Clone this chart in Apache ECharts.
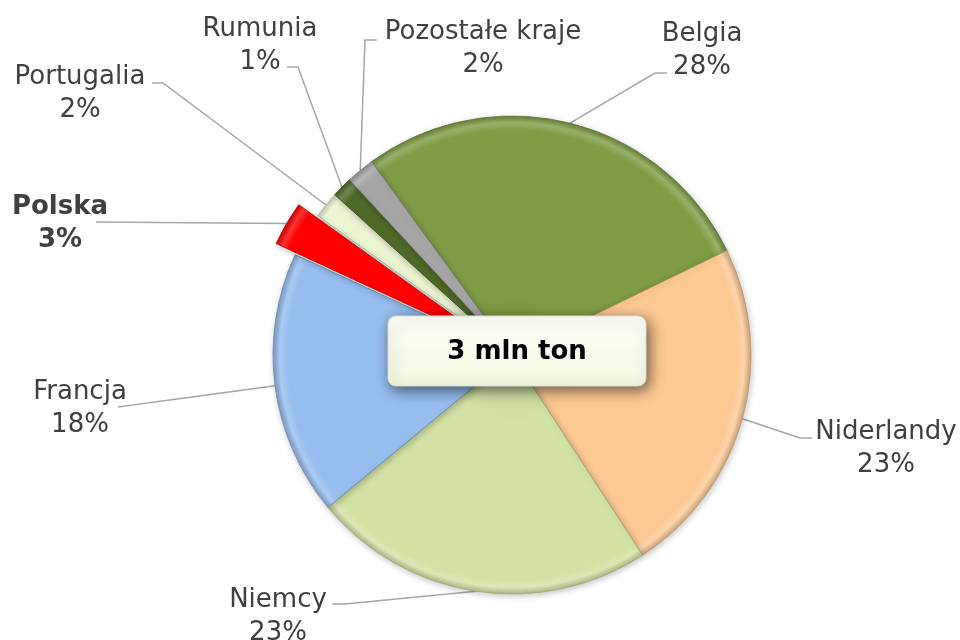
<!DOCTYPE html>
<html>
<head>
<meta charset="utf-8">
<title>Eksport</title>
<script src="https://cdn.jsdelivr.net/npm/echarts@6/dist/echarts.min.js"></script>
<style>
  html, body { margin: 0; padding: 0; background: #fff; }
  #main { width: 960px; height: 640px; }
</style>
</head>
<body>
<div id="main"></div>
<script>
// kraje i udzialy (%)
const countries = ['Belgia', 'Niderlandy', 'Niemcy', 'Francja', 'Polska', 'Portugalia', 'Rumunia', 'Pozostałe kraje'];
const shares = [27.8, 23.0, 23.2, 17.9, 3.0, 1.8, 1.4, 1.9];
const colors = ['#7f9c45', '#fcc893', '#d2e2a4', '#95bdee', '#ff0000', '#ecf5d2', '#4f6a28', '#a6a6a6'];
const highlighted = 'Polska';
const totalText = '3 mln ton';

// gdzie stoja etykiety (srodek tekstu) i koniec linii
const labelPos = [[702, 51], [886, 449], [278, 617], [80, 409], [60, 224], [80, 94], [260, 46], [483, 49]];
const lineEnds = [[667, 73, -12], [812, 438, -12], [332, 604, 13], [118, 407, 0], [96, 222, 0], [152, 83, 11], [287, 67, 11], [377, 40, -12]];

const cx = 512, cy = 355, R = 239;
const startAngle = 126;
const explode = 22;

function shade(hex, k) {
    let n = parseInt(hex.slice(1), 16);
    let r = (n >> 16) & 255, g = (n >> 8) & 255, b = n & 255;
    if (k < 0) { r *= 1 + k; g *= 1 + k; b *= 1 + k; }
    else { r += (255 - r) * k; g += (255 - g) * k; b += (255 - b) * k; }
    return 'rgb(' + Math.round(r) + ',' + Math.round(g) + ',' + Math.round(b) + ')';
}

function fillFor(c, x, y) {
    return {
        type: 'radial', x: x, y: y, r: R, global: true,
        colorStops: [
            {offset: 0, color: shade(c, -0.06)},
            {offset: 0.3, color: c},
            {offset: 0.94, color: c},
            {offset: 0.972, color: shade(c, 0.2)},
            {offset: 1, color: shade(c, -0.18)}
        ]
    };
}

// przesuniecie wysunietego wycinka liczone z danych
let total = shares.reduce((s, v) => s + v, 0);
let hi = countries.indexOf(highlighted);
let before = shares.slice(0, hi).reduce((s, v) => s + v, 0);
let mid = (startAngle - 360 * (before + shares[hi] / 2) / total) * Math.PI / 180;
let ox = cx + explode * Math.cos(mid);
let oy = cy - explode * Math.sin(mid);

const labelCommon = {
    show: true,
    formatter: '{b}\n{d}%',
    fontFamily: 'DejaVu Sans',
    fontSize: 26,
    lineHeight: 33,
    color: '#404040'
};
const lineCommon = {
    show: true,
    length: 10,
    length2: 10,
    lineStyle: {color: '#a6a6a6', width: 1.5}
};

function placeLabel(params) {
    let i = params.dataIndex;
    let p = labelPos[i], e = lineEnds[i];
    let a = params.labelLinePoints ? params.labelLinePoints[0] : [e[0], e[1]];
    return {
        x: p[0],
        y: p[1],
        align: 'center',
        verticalAlign: 'middle',
        labelLinePoints: [a, [e[0] + e[2], e[1]], [e[0], e[1]]]
    };
}

function sliceStyle(i, x, y) {
    return {
        color: fillFor(colors[i], x, y),
        borderColor: shade(colors[i], -0.25),
        borderWidth: 0.8,
        shadowBlur: 6,
        shadowColor: 'rgba(0,0,0,0.22)',
        shadowOffsetX: 1,
        shadowOffsetY: 2
    };
}

const hidden = {
    itemStyle: {color: 'rgba(0,0,0,0)', borderWidth: 0, shadowBlur: 0},
    label: {show: false},
    labelLine: {show: false}
};

let myChart = echarts.init(document.getElementById('main'));

let option = {
    animation: false,
    series: [{
        // caly tort
        type: 'pie',
        center: [cx, cy],
        radius: [0, R],
        startAngle: startAngle,
        percentPrecision: 0,
        avoidLabelOverlap: false,
        silent: true,
        label: labelCommon,
        labelLine: lineCommon,
        labelLayout: placeLabel,
        data: countries.map(function (name, i) {
            if (i === hi) return Object.assign({name: name, value: shares[i]}, hidden);
            return {name: name, value: shares[i], itemStyle: sliceStyle(i, cx, cy)};
        })
    }, {
        // wysuniety wycinek
        type: 'pie',
        center: [ox, oy],
        radius: [0, R],
        startAngle: startAngle,
        percentPrecision: 0,
        avoidLabelOverlap: false,
        silent: true,
        label: labelCommon,
        labelLine: lineCommon,
        labelLayout: placeLabel,
        data: countries.map(function (name, i) {
            if (i !== hi) return Object.assign({name: name, value: shares[i]}, hidden);
            return {
                name: name,
                value: shares[i],
                itemStyle: sliceStyle(i, ox, oy),
                label: {fontWeight: 'bold'}
            };
        })
    }],
    graphic: [{
        type: 'rect',
        shape: {x: 388, y: 316, width: 258, height: 70, r: 8},
        style: {
            fill: {
                type: 'linear', x: 0, y: 0, x2: 0, y2: 1,
                colorStops: [{offset: 0, color: '#fdfef6'}, {offset: 1, color: '#f3f8e2'}]
            },
            stroke: '#d8dcc8',
            lineWidth: 1,
            shadowBlur: 14,
            shadowColor: 'rgba(0,0,0,0.55)',
            shadowOffsetX: 3,
            shadowOffsetY: 4
        },
        z: 100
    }, {
        type: 'text',
        x: 517,
        y: 352,
        style: {
            text: totalText,
            fontFamily: 'DejaVu Sans',
            fontSize: 26,
            fontWeight: 'bold',
            fill: '#000',
            align: 'center',
            verticalAlign: 'middle'
        },
        z: 101
    }]
};

myChart.setOption(option, true);

window.addEventListener('resize', () => {
    myChart.resize()
})
</script>
</body>
</html>
